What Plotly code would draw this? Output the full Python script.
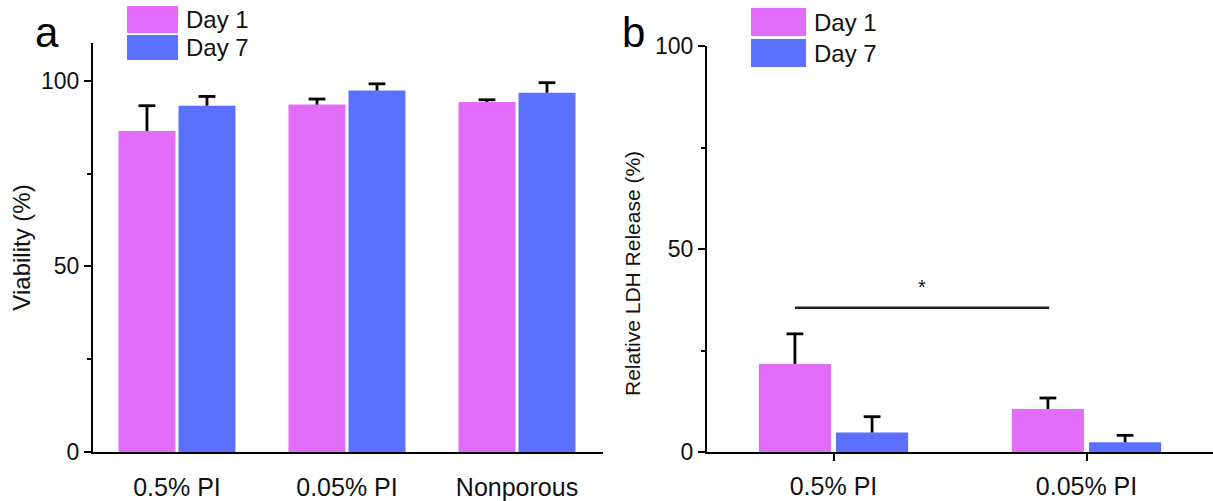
import plotly.graph_objects as go

# ---- data ----
cats_a = ["0.5% PI", "0.05% PI", "Nonporous"]
via_day1 = [86.5, 93.6, 94.3]
via_day1_err = [6.8, 1.5, 0.6]
via_day7 = [93.3, 97.4, 96.8]
via_day7_err = [2.5, 1.8, 2.7]

cats_b = ["0.5% PI", "0.05% PI"]
ldh_day1 = [21.7, 10.6]
ldh_day1_err = [7.4, 2.7]
ldh_day7 = [4.8, 2.4]
ldh_day7_err = [3.9, 1.7]

series_names = ["Day 1", "Day 7"]
sig_label = "*"
sig_level = 35.5

PINK = "#E16DFA"
BLUE = "#5B70FF"
FONT = "Liberation Sans, Arial, sans-serif"
W, H = 1213, 501

fig = go.Figure()


def add_bars(cats, vals, errs, color, name, xa, ya, width, offset):
    xs = list(range(len(cats)))
    fig.add_trace(go.Bar(
        x=xs, y=vals, width=width, offset=offset, name=name, xaxis=xa, yaxis=ya, showlegend=False,
        marker=dict(color=color, line=dict(width=0)),
        error_y=dict(type="data", array=errs, arrayminus=[0] * len(errs), symmetric=False,
                     color="black", thickness=2.8, width=0, visible=True)))
    # top caps only (T-shaped error bars)
    fig.add_trace(go.Scatter(
        x=[i + offset + width / 2 for i in xs], y=[v + e for v, e in zip(vals, errs)],
        mode="markers", xaxis=xa, yaxis=ya, showlegend=False, hoverinfo="skip",
        marker=dict(symbol="line-ew", size=12, line=dict(color="black", width=2.8))))


add_bars(cats_a, via_day1, via_day1_err, PINK, series_names[0], "x", "y", 0.335, -0.344)
add_bars(cats_a, via_day7, via_day7_err, BLUE, series_names[1], "x", "y", 0.335, 0.009)
add_bars(cats_b, ldh_day1, ldh_day1_err, PINK, series_names[0], "x2", "y2", 0.285, -0.295)
add_bars(cats_b, ldh_day7, ldh_day7_err, BLUE, series_names[1], "x2", "y2", 0.285, 0.01)

py = lambda p: 1 - p / H
px = lambda p: p / W

base = dict(showline=True, linecolor="black", linewidth=2, showgrid=False, zeroline=False,
            tickcolor="black", tickwidth=2, automargin=False)
yfont = dict(family=FONT, size=23, color="#111")
xfont = dict(family=FONT, size=25, color="#111")
minor = dict(tickvals=[25, 75], ticklen=4, ticks="outside", tickcolor="black", tickwidth=2)

fig.update_layout(
    width=W, height=H, margin=dict(l=0, r=0, t=0, b=0, autoexpand=False),
    paper_bgcolor="white", plot_bgcolor="white",
    font=dict(family=FONT, color="#111"),
    xaxis=dict(domain=[px(93), px(603)], range=[-0.494, 2.506], anchor="y", ticks="", tickfont=xfont,
               tickvals=list(range(len(cats_a))), ticktext=cats_a, ticklabelstandoff=12, **base),
    yaxis=dict(domain=[py(452), py(43)], range=[0, 110.2], anchor="x", tickvals=[0, 50, 100], ticks="outside",
               ticklen=7, minor=minor, tickfont=yfont,
               title=dict(text="Viability (%)", font=dict(family=FONT, size=24, color="#111"), standoff=4),
               **base),
    xaxis2=dict(domain=[px(707), 1.0], range=[-0.5, 1.5], anchor="y2", ticks="outside", ticklen=7,
                tickvals=list(range(len(cats_b))), ticktext=cats_b,
                tickfont=xfont, ticklabelstandoff=4, **base),
    yaxis2=dict(domain=[py(452), py(46)], range=[0, 100], anchor="x2", tickvals=[0, 50, 100], ticks="outside",
                ticklen=7, minor=minor, tickfont=yfont, **base),
)

# right-panel axis title (placed slightly below the axis centre, as in the original)
fig.add_annotation(xref="paper", yref="paper", x=px(632), y=py(274), text="Relative LDH Release (%)",
                   textangle=-90, showarrow=False, xanchor="center", yanchor="middle",
                   font=dict(family=FONT, size=21, color="#111"))

# significance bar between the Day 1 bars in panel b
fig.add_shape(type="line", xref="x2", yref="y2", x0=-0.1525, x1=0.8525, y0=sig_level, y1=sig_level,
              line=dict(color="#222", width=2.5))
fig.add_annotation(xref="x2", yref="y2", x=0.35, y=sig_level + 2.0, text=sig_label, showarrow=False,
                   font=dict(family=FONT, size=20, color="#111"), yanchor="bottom")

# panel letters
fig.add_annotation(xref="paper", yref="paper", x=px(33), y=py(33), text="a", showarrow=False,
                   font=dict(family=FONT, size=42, color="black"), xanchor="left", yanchor="middle")
fig.add_annotation(xref="paper", yref="paper", x=px(620), y=py(33), text="b", showarrow=False,
                   font=dict(family=FONT, size=42, color="black"), xanchor="left", yanchor="middle")

# manual legends
legends = [
    dict(x0=127, x1=178, rows=[(6, 33), (35, 60)], tx=184),
    dict(x0=751, x1=806, rows=[(8, 36), (39, 67)], tx=812),
]
for lg in legends:
    for (y0, y1), col, name in zip(lg["rows"], [PINK, BLUE], series_names):
        fig.add_shape(type="rect", xref="paper", yref="paper", x0=px(lg["x0"]), x1=px(lg["x1"]),
                      y0=py(y1), y1=py(y0), fillcolor=col, line=dict(width=0))
        fig.add_annotation(xref="paper", yref="paper", x=px(lg["tx"]), y=py((y0 + y1) / 2), text=name,
                           showarrow=False, xanchor="left", yanchor="middle",
                           font=dict(family=FONT, size=24, color="#111"))

fig.write_html("out.html")
